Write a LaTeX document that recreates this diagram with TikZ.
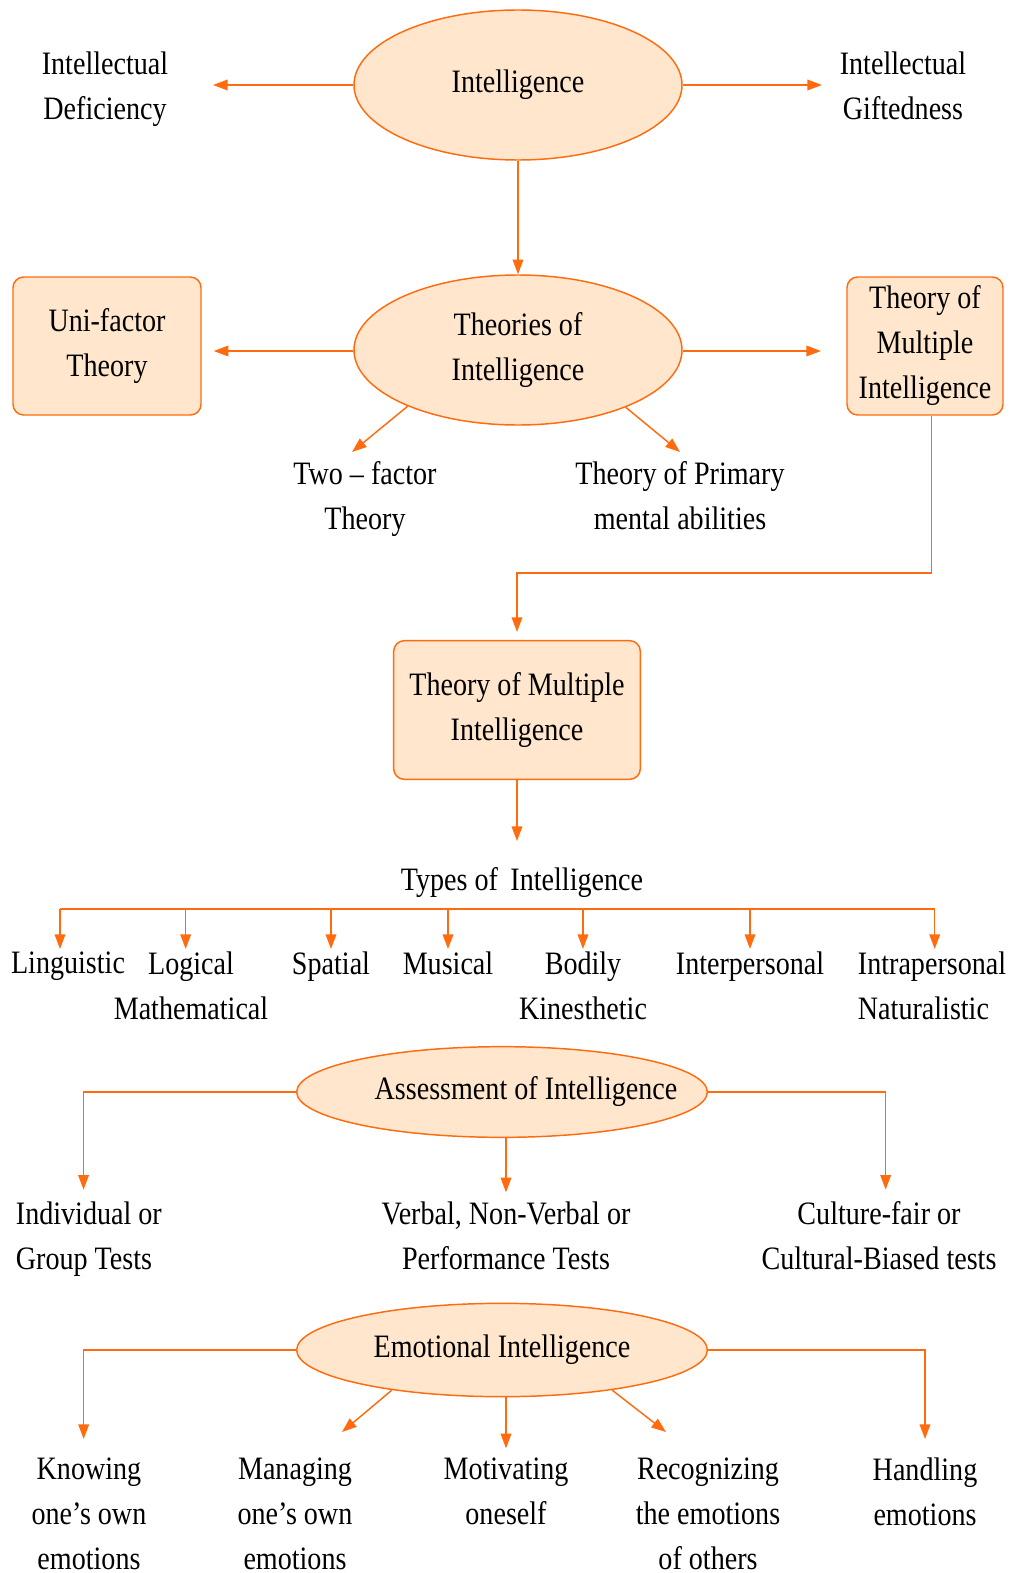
\documentclass[tikz,border=0pt]{standalone}
\usepackage{fontspec}
\setmainfont{Liberation Serif}[FakeStretch=0.86]
\usetikzlibrary{shapes.geometric,arrows.meta}
\definecolor{orline}{RGB}{255,108,16}
\definecolor{peach}{RGB}{255,230,205}
\tikzset{
	every node/.style={font=\fontsize{24.5pt}{33.75pt}\selectfont},
	line/.style={draw=orline, line width=1.1pt},
	arr/.style={line, -{Triangle[length=11pt,width=8pt]}},
	oval/.style={ellipse, draw=orline, fill=peach, line width=1.1pt, inner sep=0pt, align=center},
	panel/.style={rectangle, rounded corners=8pt, draw=orline, fill=peach, line width=1.1pt, inner sep=0pt, align=center},
	txt/.style={align=center, inner sep=2pt},
}
\begin{document}
\begin{tikzpicture}[x=0.75pt,y=-0.75pt]
	\useasboundingbox (0,0) rectangle (1021,1573);
	
	%Shape: Ellipse [Intelligence]
	\node[oval, minimum width=246pt, minimum height=112.5pt] (intel) at (518,85) {Intelligence};
	% Text Node
	\node[txt, anchor=north] (defic) at (105,49) {Intellectual\\Deficiency};
	% Text Node
	\node[txt, anchor=north] (gift) at (903,49) {Intellectual\\Giftedness};
	\coordinate (defictip) at (213,85);
	\coordinate (gifttip) at (822,85);
	\draw[arr] (intel.west) -- (defictip);
	\draw[arr] (intel.east) -- (gifttip);
	
	%Shape: Ellipse [Theories]
	\node[oval, minimum width=246pt, minimum height=112.5pt] (theo) at (518,350) {Theories of\\Intelligence};
	\draw[arr] (intel.south) -- (theo.north);
	%Shape: Rectangle [Uni-factor]
	\node[panel, minimum width=141pt, minimum height=103.5pt] (uni) at (107,346) {Uni-factor\\Theory};
	%Shape: Rectangle [Multiple]
	\node[panel, minimum width=117pt, minimum height=103.5pt] (mult) at (925,346) {Theory of\\Multiple\\Intelligence};
	\draw[arr, shorten >=9pt] (theo.west |- 0,351) -- (uni.east |- 0,351);
	\draw[arr, shorten >=19pt] (theo.east |- 0,351) -- (mult.west |- 0,351);
	% Text Node
	\node[txt, anchor=north] (twof) at (365,459) {Two -- factor\\Theory};
	% Text Node
	\node[txt, anchor=north] (prim) at (680,459) {Theory of Primary\\mental abilities};
	\coordinate (twoftip) at (352,452);
	\coordinate (primtip) at (680,452);
	\draw[arr] (theo.207) -- (twoftip);
	\draw[arr] (theo.332) -- (primtip);
	
	%Shape: Rectangle [Theory of Multiple Intelligence]
	\node[panel, minimum width=185pt, minimum height=104pt] (tmi) at (517,710) {Theory of Multiple\\Intelligence};
	\coordinate (bend) at (700,573);
	\draw[arr, shorten >=6pt] ([xshift=5pt]mult.south) |- (bend) -| (tmi.north);
	% Text Node
	\node[txt, anchor=north] (types) at (522,865) {Types of\, Intelligence};
	\draw[arr, shorten >=18pt] (tmi.south) -- (types.north -| tmi.south);
	
	% Types row
	\node[txt, anchor=north] (ling) at (68,949) {Linguistic};
	\node[txt, anchor=north] (logic) at (191,949) {Logical\\Mathematical};
	\node[txt, anchor=north] (spat) at (331,949) {Spatial};
	\node[txt, anchor=north] (music) at (448,949) {Musical};
	\node[txt, anchor=north] (bodily) at (583,949) {Bodily\\Kinesthetic};
	\node[txt, anchor=north] (inter) at (750,949) {Interpersonal};
	\node[txt, anchor=north west, align=left] (intra) at (855,949) {Intrapersonal\\Naturalistic};
	\coordinate (bar) at (0,909);
	\draw[line] ([xshift=-6pt]ling.north |- bar) -- ([xshift=2pt]intra.north |- bar);
	\draw[arr] ([xshift=-6pt]ling.north |- bar) -- ([xshift=-6pt]ling.north);
	\draw[arr] ([xshift=-4pt]logic.north |- bar) -- ([xshift=-4pt]logic.north);
	\draw[arr] (spat.north |- bar) -- (spat.north);
	\draw[arr] (music.north |- bar) -- (music.north);
	\draw[arr] (bodily.north |- bar) -- (bodily.north);
	\draw[arr] (inter.north |- bar) -- (inter.north);
	\draw[arr] ([xshift=2pt]intra.north |- bar) -- ([xshift=2pt]intra.north);
	
	%Shape: Ellipse [Assessment]
	\node[oval, minimum width=308pt, minimum height=68pt] (assess) at (502,1092) {\makebox[0pt]{\hspace*{36pt}Assessment of Intelligence}};
	% Text Node
	\node[txt, anchor=north west, align=left] (indiv) at (13,1199) {Individual or\\Group Tests};
	% Text Node
	\node[txt, anchor=north] (verbal) at (506,1199) {Verbal, Non-Verbal or\\Performance Tests};
	% Text Node
	\node[txt, anchor=north] (cult) at (879,1199) {Culture-fair or\\Cultural-Biased tests};
	\draw[arr, shorten >=7pt] (assess.west) -| ([xshift=-4pt]indiv.north);
	\draw[arr, shorten >=5pt] (verbal.north |- assess.south) -- (verbal.north);
	\draw[arr, shorten >=7pt] (assess.east) -| ([xshift=5pt]cult.north);
	
	%Shape: Ellipse [Emotional]
	\node[oval, minimum width=308pt, minimum height=70pt] (emo) at (502,1350) {Emotional Intelligence};
	% Text Node
	\node[txt, anchor=north] (know) at (89,1455) {Knowing\\one’s own\\emotions};
	\node[txt, anchor=north] (manag) at (295,1455) {Managing\\one’s own\\emotions};
	\node[txt, anchor=north] (motiv) at (506,1455) {Motivating\\oneself};
	\node[txt, anchor=north] (recog) at (708,1455) {Recognizing\\the emotions\\of others};
	\node[txt, anchor=north] (handl) at (925,1455) {Handling\\emotions};
	\coordinate (managtip) at (342,1432);
	\coordinate (recogtip) at (666,1432);
	\draw[arr, shorten >=12pt] (emo.west) -| ([xshift=-4pt]know.north);
	\draw[arr] (emo.200) -- (managtip);
	\draw[arr, shorten >=5pt] (motiv.north |- emo.south) -- (motiv.north);
	\draw[arr] (emo.340) -- (recogtip);
	\draw[arr, shorten >=12pt] (emo.east) -| (handl.north);
\end{tikzpicture}
\end{document}
